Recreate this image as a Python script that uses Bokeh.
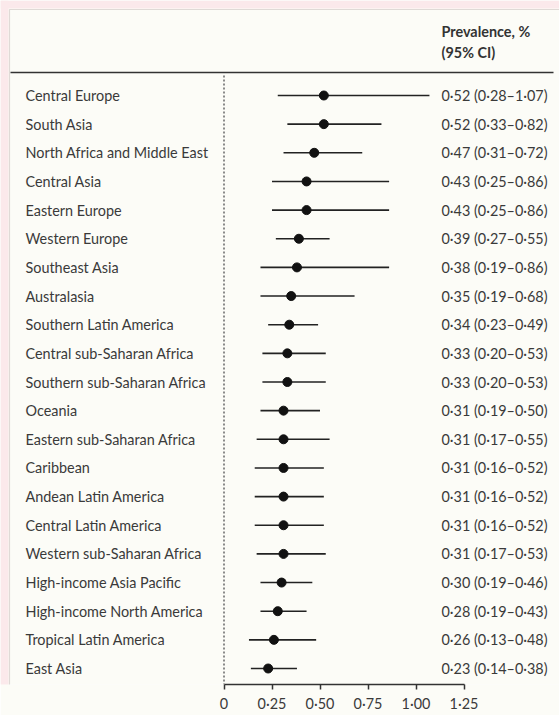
from bokeh.plotting import figure
from bokeh.models import Range1d, FixedTicker, ColumnDataSource, BoxAnnotation
from bokeh.core.properties import value
from bokeh.embed import file_html
from bokeh.resources import INLINE

regions = [
    "Central Europe", "South Asia", "North Africa and Middle East", "Central Asia",
    "Eastern Europe", "Western Europe", "Southeast Asia", "Australasia",
    "Southern Latin America", "Central sub-Saharan Africa", "Southern sub-Saharan Africa",
    "Oceania", "Eastern sub-Saharan Africa", "Caribbean", "Andean Latin America",
    "Central Latin America", "Western sub-Saharan Africa", "High-income Asia Pacific",
    "High-income North America", "Tropical Latin America", "East Asia",
]
prevalence = [0.52, 0.52, 0.47, 0.43, 0.43, 0.39, 0.38, 0.35, 0.34, 0.33, 0.33,
              0.31, 0.31, 0.31, 0.31, 0.31, 0.31, 0.30, 0.28, 0.26, 0.23]
ci_low = [0.28, 0.33, 0.31, 0.25, 0.25, 0.27, 0.19, 0.19, 0.23, 0.20, 0.20,
          0.19, 0.17, 0.16, 0.16, 0.16, 0.17, 0.19, 0.19, 0.13, 0.14]
ci_high = [1.07, 0.82, 0.72, 0.86, 0.86, 0.55, 0.86, 0.68, 0.49, 0.53, 0.53,
           0.50, 0.55, 0.52, 0.52, 0.52, 0.53, 0.46, 0.43, 0.48, 0.38]
tick_values = [0, 0.25, 0.5, 0.75, 1.0, 1.25]
tick_labels = ["0", "0·25", "0·50", "0·75", "1·00", "1·25"]
header_lines = ["Prevalence, %", "(95% CI)"]


def fmt(v):
    return f"{v:.2f}".replace(".", "·")


value_labels = [f"{fmt(m)} ({fmt(l)}–{fmt(h)})" for m, l, h in zip(prevalence, ci_low, ci_high)]
rows = list(range(len(regions)))

# layout constants (canvas pixels)
W, H = 559, 715
AXIS_BOTTOM = 31
FRAME_H = H - AXIS_BOTTOM
X0_PX, PX_PER_UNIT = 223.5, 192.0
ROW0_PX, ROW_STEP = 95, 28.65


def xd(px):
    return (px - X0_PX) / PX_PER_UNIT


def yd(py):
    return (py - ROW0_PX) / ROW_STEP


FONT = "Lato"
FS = "14.4px"
TEXT_COLOR = "#3a3a3a"
BG = "#fcfcf7"
PINK = "#fbe9eb"

p = figure(width=W, height=H, x_range=Range1d(xd(0), xd(W)),
           y_range=Range1d(yd(FRAME_H), yd(0)),
           output_backend="svg", toolbar_location=None, y_axis_location=None,
           min_border_left=0, min_border_right=0, min_border_top=0,
           min_border_bottom=AXIS_BOTTOM)
p.grid.visible = False
p.outline_line_color = None
p.background_fill_color = BG
p.border_fill_color = BG

src = ColumnDataSource(dict(region=regions, prev=prevalence, lo=ci_low, hi=ci_high,
                            row=rows, lab=value_labels))

# zero reference line
p.segment(x0=[0], x1=[0], y0=[yd(75)], y1=[yd(FRAME_H)], line_color="#666666",
          line_width=1.5, line_dash="2 2")
# header rule
p.segment(x0=[xd(10)], x1=[xd(553)], y0=[yd(72)], y1=[yd(72)], line_color="#333333",
          line_width=1.3)

p.segment(x0="lo", x1="hi", y0="row", y1="row", source=src, line_color="#222222",
          line_width=1.6)
p.scatter(x="prev", y="row", source=src, size=9, fill_color="#111111",
          line_color="#111111")

p.text(x=xd(25), y="row", text="region", source=src, text_font=value(FONT),
       text_font_size=FS, text_color=TEXT_COLOR, text_baseline="middle")
p.text(x=xd(441), y="row", text="lab", source=src, text_font=value(FONT),
       text_font_size=FS, text_color=TEXT_COLOR, text_baseline="middle")
p.text(x=[xd(441)] * 2, y=[yd(31), yd(52)], text=header_lines, text_font=value(FONT),
       text_font_size=FS, text_font_style="bold", text_color="#333333",
       text_baseline="middle")

ax = p.xaxis[0]
ax.bounds = (0, 1.25)
ax.ticker = FixedTicker(ticks=tick_values)
ax.major_label_overrides = dict(zip(tick_values, tick_labels))
ax.axis_line_color = "#333333"
ax.axis_line_width = 1.5
ax.major_tick_line_color = "#333333"
ax.major_tick_line_width = 1.5
ax.major_tick_in = 0
ax.major_tick_out = 5
ax.minor_tick_line_color = None
ax.major_label_text_font = FONT
ax.major_label_text_font_size = FS
ax.major_label_text_color = TEXT_COLOR
ax.major_label_standoff = 5

# page margin tint and frame border
for l, t, r, b in [(0, 0, W, 8), (0, 0, 8, H)]:
    p.add_layout(BoxAnnotation(left=l, top=t, right=r, bottom=b,
                               left_units="canvas", top_units="canvas",
                               right_units="canvas", bottom_units="canvas",
                               fill_color=PINK, fill_alpha=1.0, line_color=None))
p.add_layout(BoxAnnotation(left=9, top=9, right=W + 60, bottom=H + 60,
                           left_units="canvas", top_units="canvas",
                           right_units="canvas", bottom_units="canvas",
                           fill_color=None, line_color="#9c8a8c", line_width=1.2))

html = file_html(p, INLINE)
open("out.html", "w").write(html)
